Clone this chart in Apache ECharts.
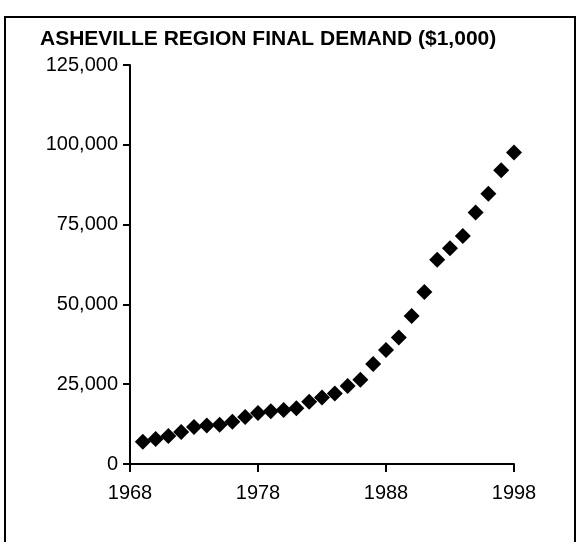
<!DOCTYPE html>
<html>
<head>
<meta charset="utf-8">
<script src="https://cdn.jsdelivr.net/npm/echarts@6/dist/echarts.min.js"></script>
<style>
html,body{margin:0;padding:0;background:#fff;}
#chart{width:578px;height:542px;}
</style>
</head>
<body>
<div id="chart"></div>
<script>
const title = "ASHEVILLE REGION FINAL DEMAND ($1,000)";
const baseYear = 1968;
const years = [1969,1970,1971,1972,1973,1974,1975,1976,1977,1978,1979,1980,1981,1982,1983,1984,1985,1986,1987,1988,1989,1990,1991,1992,1993,1994,1995,1996,1997,1998];
const demand = [7000,7800,8800,10000,11600,12100,12300,13200,14700,16000,16500,16900,17500,19500,20800,22100,24400,26400,31300,35700,39600,46400,53900,64000,67600,71400,78800,84700,92000,97600];
const yTicks = [0,25000,50000,75000,100000,125000];
const xTickYears = [1968,1978,1988,1998];

const chart = echarts.init(document.getElementById('chart'), null, {renderer:'canvas'});
const font = "'Liberation Sans', Arial, sans-serif";
const points = years.map((y,i)=>[y-baseYear, demand[i]]);
const xSpan = xTickYears[xTickYears.length-1]-xTickYears[0];
const xStep = xTickYears[1]-xTickYears[0];
chart.setOption({
  animation:false,
  backgroundColor:'#fff',
  graphic:[
    {type:'rect', shape:{x:5,y:17,width:570,height:540}, style:{fill:'none',stroke:'#000',lineWidth:2}, z:0},
    {type:'text', left:40, top:29, style:{text:title, font:"bold 21px 'Liberation Sans', Arial, sans-serif", fill:'#000'}}
  ],
  grid:{left:130,right:64,top:65,bottom:78,containLabel:false},
  xAxis:{
    type:'value', min:0, max:xSpan, interval:xStep,
    axisLine:{show:true,lineStyle:{color:'#000',width:2}},
    axisTick:{show:true,length:8,lineStyle:{color:'#000',width:2}},
    splitLine:{show:false},
    axisLabel:{margin:19,color:'#000',fontFamily:font,fontSize:20,formatter:v=>String(v+baseYear)}
  },
  yAxis:{
    type:'value', min:yTicks[0], max:yTicks[yTicks.length-1], interval:yTicks[1]-yTicks[0],
    axisLine:{show:true,lineStyle:{color:'#000',width:2}},
    axisTick:{show:true,length:7,lineStyle:{color:'#000',width:2}},
    splitLine:{show:false},
    axisLabel:{margin:12,color:'#000',fontFamily:font,fontSize:20,formatter:v=>v.toLocaleString('en-US')}
  },
  series:[{
    type:'scatter',
    data:points,
    symbol:'diamond',
    symbolSize:[16,16],
    itemStyle:{color:'#000',opacity:1}
  }]
});
</script>
</body>
</html>
